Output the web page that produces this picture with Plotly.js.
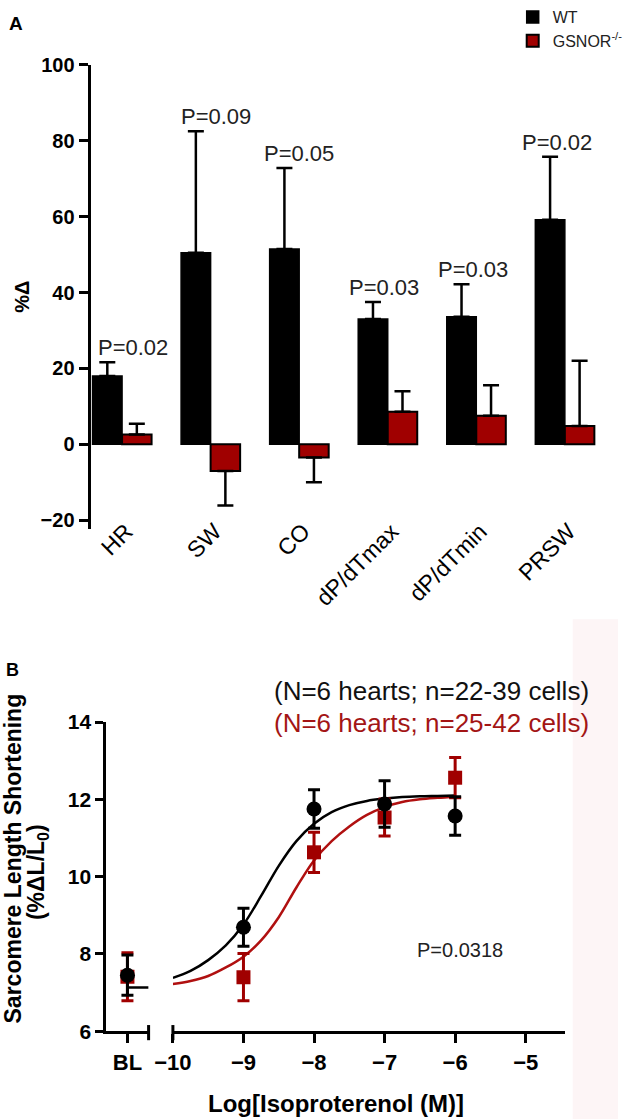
<!DOCTYPE html>
<html><head><meta charset="utf-8">
<script src="https://cdn.plot.ly/plotly-3.0.1.min.js"></script>
<style>html,body{margin:0;padding:0;background:#fff;} #chart{width:628px;height:1119px;}</style>
</head><body><div id="chart"></div>
<script>
// ---------- Panel A data ----------
const categories   = ['HR', 'SW', 'CO', 'dP/dTmax', 'dP/dTmin', 'PRSW'];
const wtChange     = [18.0, 50.5, 51.5, 33.0, 33.6, 59.2];
const wtErrUp      = [3.6, 32.0, 21.3, 4.5, 8.6, 16.6];
const gsnorChange  = [2.6, -7.0, -3.5, 8.6, 7.5, 4.8];
const gsnorErrUp   = [2.8, 0, 0, 5.4, 8.1, 17.2];
const gsnorErrDown = [0, 9.1, 6.5, 0, 0, 0];
const wtErrDown    = [0, 0, 0, 0, 0, 0];
const pLabels      = ['P=0.02', 'P=0.09', 'P=0.05', 'P=0.03', 'P=0.03', 'P=0.02'];
const yTicksA      = [-20, 0, 20, 40, 60, 80, 100];

// ---------- Panel B data ----------
const blPos        = [0];
const blLabel      = ['BL'];
const wtBL         = [7.45];
const wtBLErr      = [0.52];
const gsnorBL      = [7.41];
const gsnorBLErr   = [0.62];
const wtBLLineX    = [0, 1];
const wtBLLineY    = [7.13, 7.13];
const doseLog      = [-9, -8, -7, -6];
const wtSL         = [8.69, 11.75, 11.88, 11.57];
const wtSLErr      = [0.49, 0.50, 0.60, 0.50];
const gsnorSL      = [7.40, 10.63, 11.53, 12.56];
const gsnorSLErr   = [0.61, 0.52, 0.48, 0.52];
const fitX         = [-10, -9.75, -9.5, -9.25, -9, -8.75, -8.5, -8.25, -8, -7.75, -7.5, -7.25, -7, -6.75, -6.5, -6.25, -6];
const wtFit        = [7.38, 7.56, 7.84, 8.22, 8.76, 9.50, 10.28, 10.92, 11.37, 11.67, 11.85, 11.96, 12.02, 12.06, 12.08, 12.09, 12.10];
const gsnorFit     = [7.22, 7.30, 7.43, 7.65, 7.93, 8.35, 8.95, 9.72, 10.42, 10.92, 11.30, 11.60, 11.80, 11.93, 12.00, 12.04, 12.07];
const xTicksB      = [-10, -9, -8, -7, -6, -5];
const yTicksB      = [6, 8, 10, 12, 14];

// ---------- layout helpers (pixel -> paper) ----------
const W = 628, H = 1119;
const px = v => v / W;
const py = v => 1 - v / H;
const pLabelNudge = [11, 5, 0, -4, -3, -8];   // horizontal text nudges (px) of the P labels

const BLACK = '#000000';
const RED = '#a00000';
const FONT = 'Liberation Sans, Arial, Helvetica, sans-serif';

const traces = [
  {
    type: 'bar', name: 'WT', legendgroup: 'wt', x: categories, y: wtChange,
    xaxis: 'x', yaxis: 'y',
    marker: {color: BLACK, line: {color: BLACK, width: 1.5}},
    error_y: {type: 'data', symmetric: false, array: wtErrUp, arrayminus: wtErrDown, color: BLACK, thickness: 2.5, width: 8}
  },
  {
    type: 'bar', name: 'GSNOR<sup>-/-</sup>', legendgroup: 'gs', x: categories, y: gsnorChange,
    xaxis: 'x', yaxis: 'y',
    marker: {color: RED, line: {color: BLACK, width: 2}},
    error_y: {type: 'data', symmetric: false, array: gsnorErrUp, arrayminus: gsnorErrDown, color: BLACK, thickness: 2.5, width: 8}
  },
  // Panel B fitted curves
  {type: 'scatter', mode: 'lines', x: fitX, y: gsnorFit, xaxis: 'x4', yaxis: 'y3', showlegend: false,
   line: {color: '#b01010', width: 2.5, shape: 'spline', smoothing: 1}},
  {type: 'scatter', mode: 'lines', x: fitX, y: wtFit, xaxis: 'x4', yaxis: 'y3', showlegend: false,
   line: {color: BLACK, width: 2.5, shape: 'spline', smoothing: 1}},
  // Baseline points
  {type: 'scatter', mode: 'markers', x: blPos, y: gsnorBL, xaxis: 'x3', yaxis: 'y3', showlegend: false,
   marker: {symbol: 'square', size: 14, color: RED},
   error_y: {type: 'data', array: gsnorBLErr, color: RED, thickness: 3, width: 6}},
  {type: 'scatter', mode: 'lines', x: wtBLLineX, y: wtBLLineY, xaxis: 'x3', yaxis: 'y3', showlegend: false,
   line: {color: BLACK, width: 2.5}},
  {type: 'scatter', mode: 'markers', x: blPos, y: wtBL, xaxis: 'x3', yaxis: 'y3', showlegend: false,
   marker: {symbol: 'circle', size: 15, color: BLACK},
   error_y: {type: 'data', array: wtBLErr, color: BLACK, thickness: 3, width: 6}},
  // Dose points
  {type: 'scatter', mode: 'markers', x: doseLog, y: gsnorSL, xaxis: 'x4', yaxis: 'y3', showlegend: false,
   marker: {symbol: 'square', size: 14, color: RED},
   error_y: {type: 'data', array: gsnorSLErr, color: RED, thickness: 3, width: 6}},
  {type: 'scatter', mode: 'markers', x: doseLog, y: wtSL, xaxis: 'x4', yaxis: 'y3', showlegend: false,
   marker: {symbol: 'circle', size: 15, color: BLACK},
   error_y: {type: 'data', array: wtSLErr, color: BLACK, thickness: 3, width: 6}}
];

// minor ticks on the zero line of panel A: under every bar and every gap
const zeroTicks = [];
for (let k = 0; k <= 3 * categories.length - 1; k++) zeroTicks.push(-1 / 6 + k / 3);

const tickFontBold = (s) => ({family: FONT, size: s, color: BLACK, weight: 700});

const annotations = [
  {text: 'A', xref: 'paper', yref: 'paper', x: px(16), y: py(21), showarrow: false, xanchor: 'center', yanchor: 'middle',
   font: {family: FONT, size: 19, color: BLACK, weight: 700}},
  {text: '%Δ', xref: 'paper', yref: 'paper', x: px(23), y: py(295), showarrow: false, textangle: -90,
   xanchor: 'center', yanchor: 'middle', font: {family: FONT, size: 20, color: BLACK, weight: 700}},
  {text: 'B', xref: 'paper', yref: 'paper', x: px(13), y: py(669), showarrow: false, xanchor: 'center', yanchor: 'middle',
   font: {family: FONT, size: 18, color: BLACK, weight: 700}},
  {text: 'Sarcomere Length Shortening', xref: 'paper', yref: 'paper', x: px(13), y: py(858),
   showarrow: false, textangle: -90, xanchor: 'center', yanchor: 'middle',
   font: {family: FONT, size: 23, color: BLACK, weight: 700}},
  {text: '(%ΔL/L<sub>0</sub>)', xref: 'paper', yref: 'paper', x: px(38), y: py(871),
   showarrow: false, textangle: -90, xanchor: 'center', yanchor: 'middle',
   font: {family: FONT, size: 23, color: BLACK, weight: 700}},
  {text: 'Log[Isoproterenol (M)]', xref: 'paper', yref: 'paper', x: px(341), y: py(1103), showarrow: false,
   xanchor: 'center', yanchor: 'middle', font: {family: FONT, size: 24, color: BLACK, weight: 700}},
  {text: '(N=6 hearts; n=22-39 cells)', xref: 'paper', yref: 'paper', x: px(601), y: py(690), showarrow: false,
   xanchor: 'right', yanchor: 'middle', font: {family: FONT, size: 26, color: '#111111'}},
  {text: '(N=6 hearts; n=25-42 cells)', xref: 'paper', yref: 'paper', x: px(601), y: py(722), showarrow: false,
   xanchor: 'right', yanchor: 'middle', font: {family: FONT, size: 26, color: '#a31515'}},
  {text: 'P=0.0318', xref: 'paper', yref: 'paper', x: px(467), y: py(950), showarrow: false,
   xanchor: 'center', yanchor: 'middle', font: {family: FONT, size: 20, color: '#222222'}}
];
categories.forEach((c, i) => {
  annotations.push({text: pLabels[i], xref: 'x', yref: 'y', x: c, y: wtChange[i] + wtErrUp[i],
    showarrow: false, xanchor: 'center', yanchor: 'bottom', yshift: 0, xshift: pLabelNudge[i],
    font: {family: FONT, size: 22, color: '#222222'}});
});

const shapes = [
  {type: 'rect', xref: 'paper', yref: 'paper', x0: px(582), x1: 1, y0: 0, y1: py(618),
   fillcolor: '#fdf5f6', line: {width: 0}, layer: 'below'},
  {type: 'line', xref: 'x3 domain', yref: 'y3 domain', x0: 1, x1: 1, y0: -0.029, y1: 0.02,
   line: {color: BLACK, width: 3}},
  {type: 'line', xref: 'x4 domain', yref: 'y3 domain', x0: 0, x1: 0, y0: -0.029, y1: 0.02,
   line: {color: BLACK, width: 3}}
];

const layout = {
  width: W, height: H,
  margin: {l: 0, r: 0, t: 0, b: 0, pad: 0},
  paper_bgcolor: '#ffffff', plot_bgcolor: 'rgba(0,0,0,0)',
  font: {family: FONT, color: BLACK},
  barmode: 'group', bargap: 1 / 3, bargroupgap: 0,
  showlegend: true,
  legend: {x: px(521), y: 1.003, xanchor: 'left', yanchor: 'top', bgcolor: 'rgba(0,0,0,0)',
           font: {family: FONT, size: 16, color: '#222222'}, tracegroupgap: 7, traceorder: 'normal'},
  xaxis: {domain: [px(92), px(608)], anchor: 'y', type: 'category', range: [-0.356, 5.378],
          showline: false, ticks: '', showgrid: false, zeroline: false, tickangle: -45,
          ticklabelstandoff: -16, ticklabelshift: 4,
          tickfont: {family: FONT, size: 23, color: BLACK}},
  xaxis2: {overlaying: 'x', anchor: 'free', position: py(442.7), range: [-0.356, 5.378],
           showline: true, linewidth: 3, linecolor: BLACK, ticks: 'outside', ticklen: 8, tickwidth: 3,
           tickcolor: BLACK, tickmode: 'array', tickvals: zeroTicks, showticklabels: false,
           showgrid: false, zeroline: false},
  yaxis: {domain: [py(527), py(62)], anchor: 'x', range: [-22.2, 100], tickmode: 'array', tickvals: yTicksA,
          ticks: 'outside', ticklen: 9, tickwidth: 3, tickcolor: BLACK, showline: true, linewidth: 3,
          linecolor: BLACK, showgrid: false, zeroline: false, tickfont: tickFontBold(20)},
  xaxis3: {domain: [px(108), px(151)], anchor: 'y3', range: [-1, 1], tickmode: 'array', tickvals: blPos,
           ticktext: blLabel, ticks: 'outside', ticklen: 9, tickwidth: 3, tickcolor: BLACK,
           showline: true, linewidth: 3, linecolor: BLACK, showgrid: false, zeroline: false,
           tickfont: tickFontBold(22)},
  xaxis4: {domain: [px(175.7), px(574)], anchor: 'y3', range: [-10, -4.445], tickmode: 'array',
           tickvals: xTicksB, ticks: 'outside', ticklen: 9, tickwidth: 3, tickcolor: BLACK,
           showline: true, linewidth: 3, linecolor: BLACK, showgrid: false, zeroline: false,
           tickfont: tickFontBold(22)},
  yaxis3: {domain: [py(1031), py(721)], anchor: 'x3', range: [6, 14], tickmode: 'array', tickvals: yTicksB,
           ticks: 'outside', ticklen: 8, tickwidth: 3, tickcolor: BLACK, showline: true, linewidth: 3,
           linecolor: BLACK, showgrid: false, zeroline: false, tickfont: tickFontBold(21)},
  annotations: annotations,
  shapes: shapes
};

Plotly.newPlot('chart', traces, layout, {displayModeBar: false, staticPlot: true});
</script>
</body></html>
